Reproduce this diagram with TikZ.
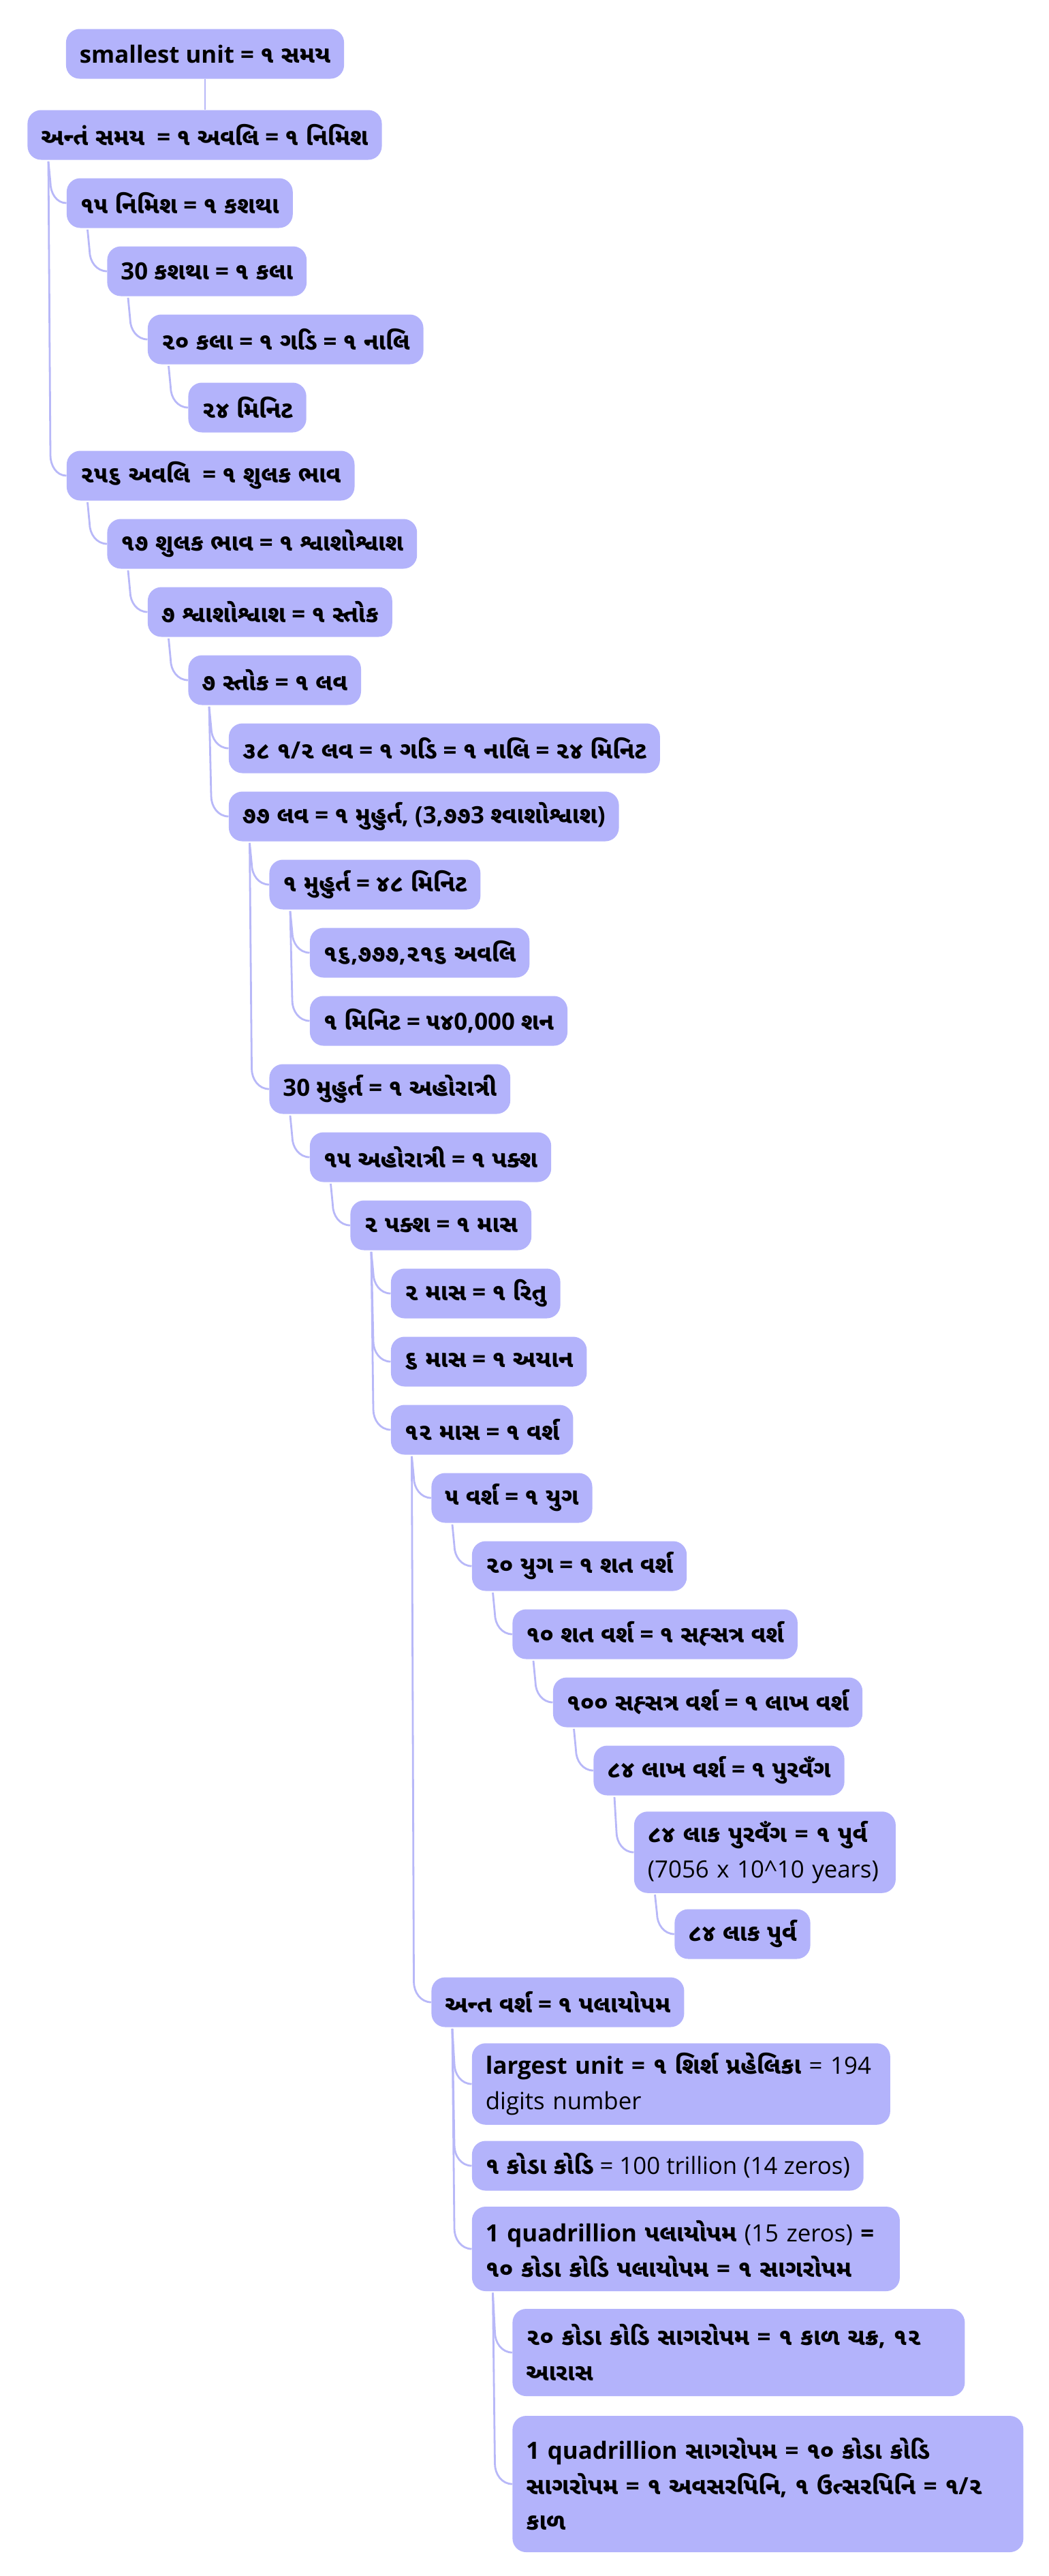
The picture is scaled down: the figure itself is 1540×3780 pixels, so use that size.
\documentclass[tikz,border=0pt]{standalone}
\usepackage{fontspec}
\setmainfont{Open Sans}
\newfontfamily\gufont[Script=Gujarati]{Noto Sans Gujarati UI}
\newcommand{\gu}[1]{{\gufont #1}}
\usetikzlibrary{calc}
\definecolor{boxfill}{RGB}{179,179,251}
\definecolor{linkcol}{RGB}{184,184,248}
\tikzset{
  unit/.style={fill=boxfill, rounded corners=10pt, anchor=west,
    minimum height=36.5pt, inner xsep=10pt, inner ysep=7pt,
    font=\fontsize{17.4}{26}\selectfont\bfseries, align=left},
  link/.style={draw=linkcol, line width=1.4pt}
}
% parent -> child, down the left side of the parent
\newcommand{\branch}[2]{%
  \draw[link] ($(#1.south west)+(31,2)$) -- ($(#1.south west |- #2.west)+(34,-30)$)
    to[out=-90,in=180] (#2.west);}

\begin{document}
\begin{tikzpicture}[x=0.5pt,y=-0.5pt]
  \useasboundingbox (0,0) rectangle (1540,3780);

  \node[unit, anchor=center] (smallest) at (301, 79) {smallest unit = \gu{૧ સમય}};
  \node[unit] (anttsamay) at (40, 198) {\gu{અન્તં સમય}\ \ = \gu{૧ અવલિ} = \gu{૧ નિમિશ}};
  \node[unit] (nimish) at (97.5, 298) {\gu{૧૫ નિમિશ} = \gu{૧ કશથા}};
  \node[unit] (kashtha) at (157, 398) {30 \gu{કશથા} = \gu{૧ કલા}};
  \node[unit] (kala) at (216.5, 498) {\gu{૨૦ કલા} = \gu{૧ ગડિ} = \gu{૧ નાલિ}};
  \node[unit] (minit) at (276, 598) {\gu{૨૪ મિનિટ}};
  \node[unit] (shulak) at (97.5, 698) {\gu{૨૫૬ અવલિ}\ \ = \gu{૧ શુલક ભાવ}};
  \node[unit] (shvas) at (157, 798) {\gu{૧૭ શુલક ભાવ} = \gu{૧ શ્વાશોશ્વાશ}};
  \node[unit] (stok) at (216.5, 898) {\gu{૭ શ્વાશોશ્વાશ} = \gu{૧ સ્તોક}};
  \node[unit] (lav) at (276, 998) {\gu{૭ સ્તોક} = \gu{૧ લવ}};
  \node[unit] (gadi) at (335.5, 1098) {\gu{૩૮ ૧}/\gu{૨ લવ} = \gu{૧ ગડિ} = \gu{૧ નાલિ} = \gu{૨૪ મિનિટ}};
  \node[unit] (muhurt) at (335.5, 1198) {\gu{૭૭ લવ} = \gu{૧ મુહુર્ત}, (3,\gu{૭૭}3 \gu{શ્‍વાશોશ્વાશ})};
  \node[unit] (muhmin) at (395, 1298) {\gu{૧ મુહુર્ત} = \gu{૪૮ મિનિટ}};
  \node[unit] (avali) at (454.5, 1398) {\gu{૧૬},\gu{૭૭૭},\gu{૨૧૬ અવલિ}};
  \node[unit] (shan) at (454.5, 1498) {\gu{૧ મિનિટ} = \gu{૫૪}0,000 \gu{શન}};
  \node[unit] (ahoratri) at (395, 1598) {30 \gu{મુહુર્ત} = \gu{૧ અહોરાત્રી}};
  \node[unit] (paksh) at (454.5, 1698) {\gu{૧૫ અહોરાત્રી} = \gu{૧ પક્શ}};
  \node[unit] (mas) at (514, 1798) {\gu{૨ પક્શ} = \gu{૧ માસ}};
  \node[unit] (ritu) at (573.5, 1898) {\gu{૨ માસ} = \gu{૧ રિતુ}};
  \node[unit] (ayan) at (573.5, 1998) {\gu{૬ માસ} = \gu{૧ અયાન}};
  \node[unit] (varsh) at (573.5, 2098) {\gu{૧૨ માસ} = \gu{૧ વર્શ}};
  \node[unit] (yug) at (633, 2198) {\gu{૫ વર્શ} = \gu{૧ યુગ}};
  \node[unit] (shat) at (692.5, 2298) {\gu{૨૦ યુગ} = \gu{૧ શત વર્શ}};
  \node[unit] (sahasra) at (752, 2398) {\gu{૧૦ શત વર્શ} = \gu{૧ સહ્સત્ર વર્શ}};
  \node[unit] (lakh) at (811.5, 2498) {\gu{૧૦૦ સહ્સત્ર વર્શ} = \gu{૧ લાખ વર્શ}};
  \node[unit] (purvang) at (871, 2598) {\gu{૮૪ લાખ વર્શ} = \gu{૧ પુરવઁગ}};
  \node[unit, text width=172pt, minimum height=58pt] (purva) at (930.5, 2718)
    {\gu{૮૪ લાક પુરવઁગ} = \gu{૧ પુર્વ}\\ \mdseries(7056 x 10\textasciicircum10 years)};
  \node[unit] (lakpurva) at (990, 2838) {\gu{૮૪ લાક પુર્વ}};
  \node[unit] (palyopam) at (633, 2938) {\gu{અન્ત વર્શ} = \gu{૧ પલાયોપમ}};
  \node[unit, text width=287pt, minimum height=58pt] (largest) at (692.5, 3058)
    {largest unit = \gu{૧ શિર્શ પ્રહેલિકા} {\mdseries = 194}\\ \mdseries digits number};
  \node[unit] (kodakodi) at (692.5, 3178) {\gu{૧ કોડા કોડિ} {\mdseries = 100 trillion (14 zeros)}};
  \node[unit, text width=294pt, minimum height=62pt] (sagaropam) at (692.5, 3300)
    {1 quadrillion \gu{પલાયોપમ} {\mdseries (15 zeros)} =\\ \gu{૧૦ કોડા કોડિ પલાયોપમ} = \gu{૧ સાગરોપમ}};
  \node[unit, text width=312pt, minimum height=64pt] (kalchakra) at (752, 3452)
    {\gu{૨૦ કોડા કોડિ સાગરોપમ} = \gu{૧ કાળ ચક્ર}, \gu{૧૨}\\ \gu{આરાસ}};
  \node[unit, text width=355pt, minimum height=100pt] (avsarpini) at (752, 3645)
    {1 quadrillion \gu{સાગરોપમ} = \gu{૧૦ કોડા કોડિ}\\ \gu{સાગરોપમ} = \gu{૧ અવસરપિનિ}, \gu{૧ ઉત્સરપિનિ} = \gu{૧}/\gu{૨}\\ \gu{કાળ}};

  \draw[link] (smallest.south) -- (smallest.south |- anttsamay.north);
  \branch{anttsamay}{nimish}
  \branch{anttsamay}{shulak}
  \branch{nimish}{kashtha}
  \branch{kashtha}{kala}
  \branch{kala}{minit}
  \branch{shulak}{shvas}
  \branch{shvas}{stok}
  \branch{stok}{lav}
  \branch{lav}{gadi}
  \branch{lav}{muhurt}
  \branch{muhurt}{muhmin}
  \branch{muhurt}{ahoratri}
  \branch{muhmin}{avali}
  \branch{muhmin}{shan}
  \branch{ahoratri}{paksh}
  \branch{paksh}{mas}
  \branch{mas}{ritu}
  \branch{mas}{ayan}
  \branch{mas}{varsh}
  \branch{varsh}{yug}
  \branch{varsh}{palyopam}
  \branch{yug}{shat}
  \branch{shat}{sahasra}
  \branch{sahasra}{lakh}
  \branch{lakh}{purvang}
  \branch{purvang}{purva}
  \branch{purva}{lakpurva}
  \branch{palyopam}{largest}
  \branch{palyopam}{kodakodi}
  \branch{palyopam}{sagaropam}
  \branch{sagaropam}{kalchakra}
  \branch{sagaropam}{avsarpini}
\end{tikzpicture}
\end{document}
